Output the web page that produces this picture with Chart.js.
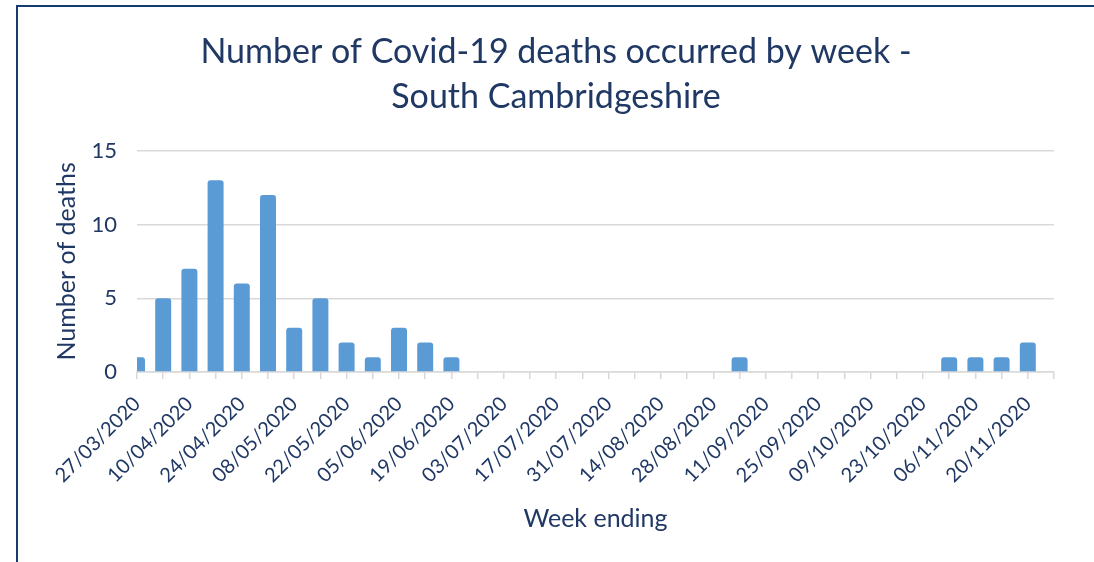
<!DOCTYPE html>
<html>
<head>
<meta charset="utf-8">
<script src="https://cdn.jsdelivr.net/npm/chart.js@4"></script>
<style>
  html, body { margin: 0; padding: 0; background: #fff; overflow: hidden; }
  #wrap { position: relative; width: 1094px; height: 562px; }
  #frame { position: absolute; left: 16px; top: 5px; width: 1200px; height: 700px;
           border-top: 2px solid #163B6E; border-left: 2px solid #163B6E; box-sizing: border-box; }
  canvas { position: absolute; left: 0; top: 0; }
</style>
</head>
<body>
<div id="wrap">
  <div id="frame"></div>
  <canvas id="c" width="1094" height="562"></canvas>
</div>
<script>
const titleLines = ['Number of Covid-19 deaths occurred by week -', 'South Cambridgeshire'];
const yAxisTitle = 'Number of deaths';
const xAxisTitle = 'Week ending';
const weeks = ['27/03/2020','03/04/2020','10/04/2020','17/04/2020','24/04/2020','01/05/2020','08/05/2020',
  '15/05/2020','22/05/2020','29/05/2020','05/06/2020','12/06/2020','19/06/2020','26/06/2020','03/07/2020',
  '10/07/2020','17/07/2020','24/07/2020','31/07/2020','07/08/2020','14/08/2020','21/08/2020','28/08/2020',
  '04/09/2020','11/09/2020','18/09/2020','25/09/2020','02/10/2020','09/10/2020','16/10/2020','23/10/2020',
  '30/10/2020','06/11/2020','13/11/2020','20/11/2020'];
const deaths = [1,5,7,13,6,12,3,5,2,1,3,2,1,0,0,0,0,0,0,0,0,0,0,1,0,0,0,0,0,0,0,1,1,1,2];
const yTicks = [0, 5, 10, 15];

const TEXT = '#203864';
const GRID = '#D9D9D9';
const FONT = 'Lato';

new Chart(document.getElementById('c'), {
  type: 'bar',
  data: {
    datasets: [{
      data: deaths.map((v, i) => ({ x: i, y: v })),
      backgroundColor: '#5B9BD5',
      borderRadius: { topLeft: 3, topRight: 3, bottomLeft: 0, bottomRight: 0 },
      borderSkipped: 'start',
      categoryPercentage: 1,
      barPercentage: 0.61,
      clip: 0
    }]
  },
  options: {
    responsive: false,
    devicePixelRatio: 1,
    animation: false,
    layout: { padding: { left: 18, right: 0, top: 0, bottom: 28 } },
    plugins: {
      legend: { display: false },
      tooltip: { enabled: false },
      title: {
        display: true,
        text: titleLines,
        color: TEXT,
        font: { family: FONT, size: 34, weight: 'normal', lineHeight: 1.32 },
        padding: { top: 30, bottom: 31 }
      }
    },
    scales: {
      x: {
        type: 'linear',
        offset: false,
        min: 0,
        max: weeks.length,
        afterBuildTicks: (s) => { s.ticks = Array.from({ length: weeks.length + 1 }, (_, i) => ({ value: i })); },
        afterFit: (s) => { s.height = 162; },
        ticks: {
          autoSkip: false,
          minRotation: 45,
          maxRotation: 45,
          padding: 13,
          color: TEXT,
          font: { family: FONT, size: 20 },
          callback: (v) => (v % 2 === 0 && v < weeks.length) ? weeks[v] : ''
        },
        grid: { display: true, offset: false, drawOnChartArea: false, drawTicks: true, tickLength: 7, color: GRID, lineWidth: 1.5 },
        border: { display: true, color: GRID, width: 1.5 },
        title: {
          display: true,
          text: xAxisTitle,
          color: TEXT,
          font: { family: FONT, size: 25 },
          padding: { top: 0, bottom: 0 }
        }
      },
      y: {
        min: 0,
        max: 15,
        afterBuildTicks: (s) => { s.ticks = yTicks.map(v => ({ value: v })); },
        afterFit: (s) => { s.width = 119; },
        ticks: { color: TEXT, font: { family: FONT, size: 22 }, padding: 20 },
        grid: { color: GRID, lineWidth: 1.5, drawTicks: false },
        border: { display: false },
        title: {
          display: true,
          text: yAxisTitle,
          color: TEXT,
          font: { family: FONT, size: 25 },
          padding: { top: 34, bottom: 0 }
        }
      },
      y2: {
        position: 'right',
        display: true,
        afterFit: (s) => { s.width = 40; },
        ticks: { display: false },
        grid: { display: false },
        border: { display: false }
      }
    }
  }
});
</script>
</body>
</html>
